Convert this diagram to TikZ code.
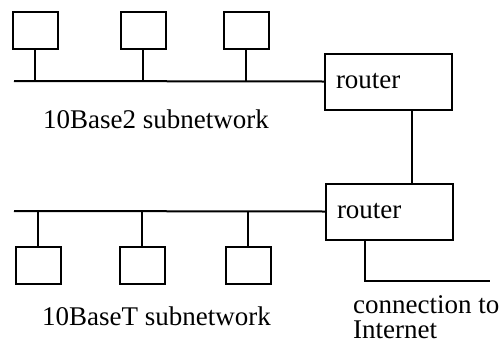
\documentclass[tikz,border=0pt]{standalone}
\usepackage{fontspec}
\setmainfont{Liberation Serif}
\usepackage{tikz}
\usetikzlibrary{positioning, calc}
\tikzstyle{wire} = [line width=2pt]

\begin{document}
\begin{tikzpicture}[
    x=1pt, y=-1pt,
    font=\fontsize{27}{25}\selectfont,
    host/.style={draw, line width=2pt, minimum width=45pt, minimum height=37pt, inner sep=0pt},
    router/.style={draw, line width=2pt, minimum height=56pt, text width=105pt, inner xsep=11pt, inner ysep=0pt, align=left},
    caption/.style={anchor=base west, inner sep=0pt},
]
    \useasboundingbox (0,0) rectangle (504,346);

    % Routers
    \node[router] (R-1) at (388.5,81.5) {router};
    \node[router] (R-2) at (389.5,211.5) {router};
    \draw[wire] ([xshift=23pt]R-1.south) -- ([xshift=22pt]R-2.north);

    % 10Base2 subnetwork
    \coordinate (busA) at (14,81);
    \draw[wire] (busA) -- (R-1.west);
    \foreach \x [count=\i] in {35,143,246}
        \node[host] (A-\i) at (\x,30.5) {};
    \foreach \i in {1,...,3}
        \draw[wire] (A-\i.south) -- (A-\i.south |- busA);

    % 10BaseT subnetwork
    \coordinate (busB) at (14,211);
    \draw[wire] (busB) -- (R-2.west);
    \foreach \x [count=\i] in {38,142,248}
        \node[host] (B-\i) at (\x,265.5) {};
    \foreach \i in {1,...,3}
        \draw[wire] (B-\i.north) -- (B-\i.north |- busB);

    % Internet link
    \coordinate (net) at (490,281);
    \draw[wire] ([xshift=-25pt]R-2.south) |- (net);

    % Labels
    \node[caption] (lab-A) at (43,128) {10Base2 subnetwork};
    \node[caption] (lab-B) at (42,325) {10BaseT subnetwork};
    \node[caption] (lab-net) at (353,313) {connection to};
    \node[caption] (lab-net2) at (353,338) {Internet};
\end{tikzpicture}
\end{document}
